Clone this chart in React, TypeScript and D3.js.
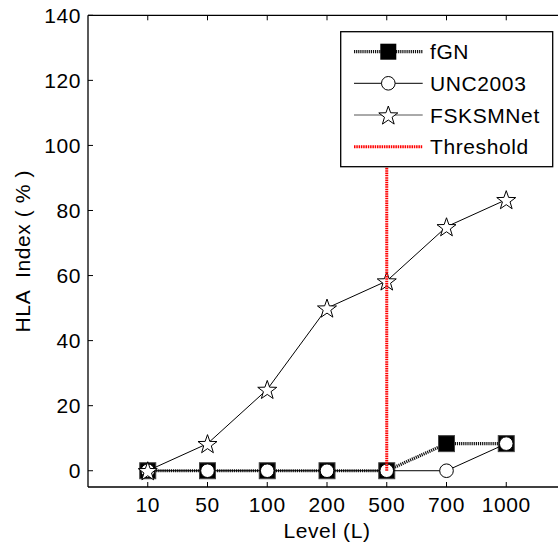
import React from "react";
import * as d3 from "d3";

const levels = ["10", "50", "100", "200", "500", "700", "1000"];
const fGN = [0, 0, 0, 0, 0, 8.33, 8.33];
const UNC2003 = [0, 0, 0, 0, 0, 0, 8.33];
const FSKSMNet = [0, 8.33, 25, 50, 58.33, 75, 83.33];
const yTicks = [0, 20, 40, 60, 80, 100, 120, 140];
const thresholdLevelIndex = 4;
const thresholdRange = [0, 100];
const legendNames = ["fGN", "UNC2003", "FSKSMNet", "Threshold"];

const W = 558;
const H = 547;
const FONT = "'Liberation Sans', Arial, sans-serif";
const FS = 21;
const LS = 0.6;

function starPath(cx: number, cy: number, R: number) {
  const r = R * 0.4;
  const pts: string[] = [];
  for (let i = 0; i < 10; i++) {
    const a = -Math.PI / 2 + (i * Math.PI) / 5;
    const rad = i % 2 === 0 ? R : r;
    pts.push(`${cx + rad * Math.cos(a)},${cy + rad * Math.sin(a)}`);
  }
  return "M" + pts.join("L") + "Z";
}

export default function App() {
  const x = d3.scaleLinear().domain([0, 8]).range([88, 566]);
  const y = d3.scaleLinear().domain([-5, 140]).range([487, 15.3]);
  const xi = (i: number) => x(i + 1);
  const line = d3
    .line<number>()
    .x((_, i) => xi(i))
    .y((d) => y(d));

  const left = x(0);
  const right = x(8);
  const top = y(140);
  const bottom = y(-5);
  const tickLen = 5;

  const lg = { x: 340.7, y: 31.7, w: 212, h: 135 };
  const rowY = [51.7, 83.3, 115, 146.7];
  const sx0 = 354, sx1 = 422.7, smid = 388.3;

  return (
    <svg
      width={W}
      height={H}
      style={{ position: "absolute", left: 0, top: 0, background: "#fff", overflow: "hidden" }}
      fontFamily={FONT}
    >
      <rect x={0} y={0} width={W} height={H} fill="#fff" />
      {/* axes (right edge falls outside the picture) */}
      <g stroke="#000" strokeWidth={1.3} fill="none">
        <line x1={left} y1={top} x2={right} y2={top} />
        <line x1={left} y1={bottom} x2={right} y2={bottom} />
        <line x1={left} y1={top} x2={left} y2={bottom} />
      </g>
      {/* y ticks */}
      {yTicks.map((t) => (
        <g key={"y" + t}>
          <line x1={left} x2={left + tickLen} y1={y(t)} y2={y(t)} stroke="#000" strokeWidth={1} />
          <text x={left - 7} y={y(t)} dy="0.36em" textAnchor="end" fontSize={FS} letterSpacing={LS} fill="#000">
            {t}
          </text>
        </g>
      ))}
      {/* x ticks */}
      {levels.map((l, i) => (
        <g key={"x" + l}>
          <line x1={xi(i)} x2={xi(i)} y1={bottom} y2={bottom - tickLen} stroke="#000" strokeWidth={1} />
          <line x1={xi(i)} x2={xi(i)} y1={top} y2={top + tickLen} stroke="#000" strokeWidth={1} />
          <text x={xi(i)} y={512} textAnchor="middle" fontSize={FS} letterSpacing={LS} fill="#000">
            {l}
          </text>
        </g>
      ))}
      <text x={(left + right) / 2} y={538} textAnchor="middle" fontSize={FS} letterSpacing={LS} fill="#000">
        Level (L)
      </text>
      <text
        transform={`translate(30,${(top + bottom) / 2}) rotate(-90)`}
        textAnchor="middle"
        fontSize={FS}
        letterSpacing={LS}
        fill="#000"
        style={{ whiteSpace: "pre" }}
      >
        {"HLA  Index ( % )"}
      </text>

      {/* fGN */}
      <path d={line(fGN) || ""} fill="none" stroke="#111" strokeWidth={3.2} strokeDasharray="1.2 0.9" />
      {fGN.map((v, i) => (
        <rect key={"s" + i} x={xi(i) - 8} y={y(v) - 8} width={16} height={16} fill="#000" stroke="#444" strokeWidth={1} />
      ))}
      {/* UNC2003 */}
      <path d={line(UNC2003) || ""} fill="none" stroke="#000" strokeWidth={1} />
      {UNC2003.map((v, i) => (
        <circle key={"c" + i} cx={xi(i)} cy={y(v)} r={6.8} fill="#fff" stroke="#000" strokeWidth={1} />
      ))}
      {/* FSKSMNet */}
      <path d={line(FSKSMNet) || ""} fill="none" stroke="#000" strokeWidth={1} />
      {FSKSMNet.map((v, i) => (
        <path key={"st" + i} d={starPath(xi(i), y(v) + 1, 10)} fill="#fff" stroke="#000" strokeWidth={1} />
      ))}
      {/* threshold */}
      <line
        x1={xi(thresholdLevelIndex)}
        x2={xi(thresholdLevelIndex)}
        y1={y(thresholdRange[0])}
        y2={y(thresholdRange[1])}
        stroke="#ff0000"
        strokeWidth={3}
        strokeDasharray="1.5 0.8"
      />

      {/* legend */}
      <rect x={lg.x} y={lg.y} width={lg.w} height={lg.h} fill="#fff" stroke="#000" strokeWidth={1.3} />
      <line x1={sx0} x2={sx1} y1={rowY[0]} y2={rowY[0]} stroke="#111" strokeWidth={3.2} strokeDasharray="1.2 0.9" />
      <rect x={smid - 8} y={rowY[0] - 8} width={16} height={16} fill="#000" />
      <line x1={sx0} x2={sx1} y1={rowY[1]} y2={rowY[1]} stroke="#000" strokeWidth={1} />
      <circle cx={smid} cy={rowY[1]} r={6.8} fill="#fff" stroke="#000" strokeWidth={1} />
      <line x1={sx0} x2={sx1} y1={rowY[2]} y2={rowY[2]} stroke="#555" strokeWidth={1} />
      <path d={starPath(smid, rowY[2] + 1, 10)} fill="#fff" stroke="#000" strokeWidth={1} />
      <line x1={sx0} x2={sx1} y1={rowY[3]} y2={rowY[3]} stroke="#ff0000" strokeWidth={3} strokeDasharray="1.5 0.8" />
      {legendNames.map((n, i) => (
        <text key={n} x={430} y={rowY[i]} dy="0.36em" fontSize={FS} letterSpacing={LS} fill="#000">
          {n}
        </text>
      ))}
    </svg>
  );
}
